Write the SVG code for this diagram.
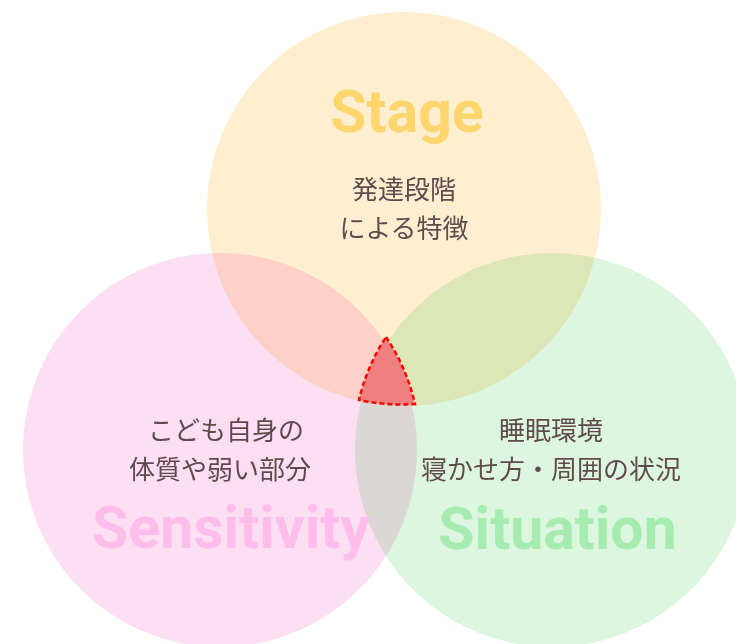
<svg xmlns="http://www.w3.org/2000/svg" width="736" height="644" viewBox="0 0 736 644">
<style>
.c{mix-blend-mode:multiply}
.t{font-family:Roboto,"Liberation Sans",sans-serif;font-weight:700;text-anchor:middle;font-size:59px}
.j{font-family:"Noto Sans CJK JP","Noto Sans",sans-serif;font-size:26px;fill:#614a4d;text-anchor:middle}
</style>
<rect width="736" height="644" fill="#ffffff"/>
<g id="stage">
<circle class="c" cx="404" cy="209" r="197" fill="#ffefd0"/>
<text class="t" x="407" y="132" fill="#ffd66e">Stage</text>
<text class="j" x="404" y="199">発達段階</text>
<text class="j" x="404" y="238">による特徴</text>
</g>
<g id="situation">
<circle class="c" cx="552" cy="450" r="197" fill="#dcf6df"/>
<text class="t" x="557.5" y="549" fill="#a6ebb0">Situation</text>
<text class="j" x="551" y="440">睡眠環境</text>
<text class="j" x="551" y="479">寝かせ方・周囲の状況</text>
</g>
<g id="sensitivity">
<circle class="c" cx="220" cy="450" r="197" fill="#fddff4"/>
<text class="t" x="231" y="548" fill="#ffbdeb">Sensitivity</text>
<text class="j" x="226" y="440">こども自身の</text>
<text class="j" x="220" y="479">体質や弱い部分</text>
</g>
<g id="center">
<path d="M386,337 A200,200 0 0 1 415,404 A197,197 0 0 1 359,400 A200,200 0 0 1 386,337 Z" fill="#f08080" stroke="#ff0000" stroke-width="2.5" stroke-dasharray="5 3"/>
</g>
<g id="connectors"/>
</svg>
